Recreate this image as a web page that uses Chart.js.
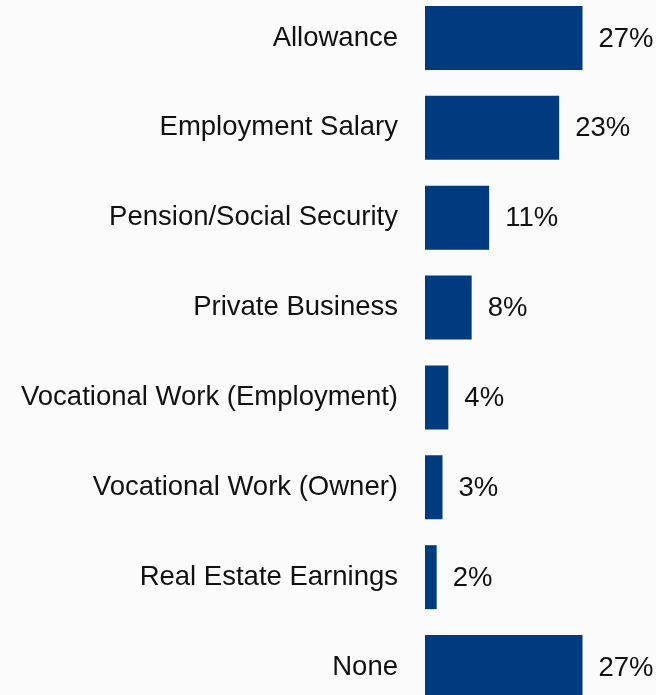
<!DOCTYPE html>
<html>
<head>
  <meta name="viewport" content="width=device-width, initial-scale=1.0">
  <title>Sources of Income</title>
  <script src="https://cdn.jsdelivr.net/npm/chart.js"></script>
  <style>
    body {
      margin: 0;
      padding: 0;
      background: #fbfbfb;
      overflow: hidden;
    }
    #wrap {
      position: absolute;
      left: 0;
      top: -7px;
      width: 656px;
      height: 719px;
    }
  </style>
</head>
<body>
  <div id="wrap"><canvas id="incomeChart"></canvas></div>

  <script>
    // income sources and share of respondents (%)
    const categories = [
      'Allowance',
      'Employment Salary',
      'Pension/Social Security',
      'Private Business',
      'Vocational Work (Employment)',
      'Vocational Work (Owner)',
      'Real Estate Earnings',
      'None'
    ];
    const shares = [27, 23, 11, 8, 4, 3, 2, 27];

    const FONT = 'Liberation Sans, Arial, Helvetica, sans-serif';

    // percentage text to the right of each bar
    const valueLabels = {
      id: 'valueLabels',
      afterDatasetsDraw(chart) {
        const ctx = chart.ctx;
        const meta = chart.getDatasetMeta(0);
        ctx.save();
        ctx.font = '27.5px ' + FONT;
        ctx.fillStyle = '#111';
        ctx.textAlign = 'left';
        ctx.textBaseline = 'middle';
        meta.data.forEach((bar, i) => {
          ctx.fillText(shares[i] + '%', bar.x + 16, bar.y + 1);
        });
        ctx.restore();
      }
    };

    const ctx = document.getElementById('incomeChart').getContext('2d');
    new Chart(ctx, {
      type: 'bar',
      data: {
        labels: categories,
        datasets: [{
          data: shares,
          backgroundColor: '#003b7f',
          borderWidth: 0,
          categoryPercentage: 1,
          barPercentage: 0.712
        }]
      },
      options: {
        indexAxis: 'y',
        responsive: true,
        maintainAspectRatio: false,
        animation: false,
        layout: { padding: { top: 0, bottom: 0, left: 0, right: 56 } },
        plugins: {
          legend: { display: false },
          tooltip: { enabled: false }
        },
        scales: {
          x: {
            display: false,
            min: 0,
            max: 30
          },
          y: {
            afterFit(scale) {
              // fixed label column, and let the bars use the full height
              scale.width = 425;
              scale.paddingTop = 0;
              scale.paddingBottom = 0;
            },
            grid: { display: false, drawTicks: false },
            border: { display: false },
            ticks: {
              padding: 27,
              color: '#111',
              font: { family: FONT, size: 27.5 }
            }
          }
        }
      },
      plugins: [valueLabels]
    });
  </script>
</body>
</html>
